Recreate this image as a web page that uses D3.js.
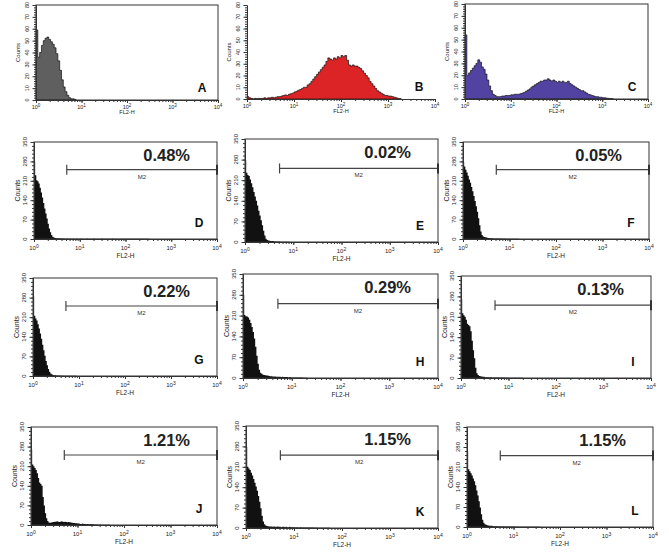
<!DOCTYPE html>
<html>
<head>
<meta charset="utf-8">
<script src="https://cdn.jsdelivr.net/npm/d3@7"></script>
<style>
  body { margin: 0; background: #fff; }
  svg { font-family: "Liberation Sans", Arial, sans-serif; }
</style>
</head>
<body>
<svg width="669" height="559"></svg>
<script>
// Counts per log-spaced channel, first channel at 10^0
const topStep = 0.04;   // decades per channel, top row
const lowStep = 0.025;  // decades per channel, rows 2-4

const countsA = [59,36,40,46,50,52,53,51,49,47,44,39,33,25,17,11,7,4,2,1,1,0.5];
const countsB = [2,1,0.5,0,0.5,0.3,0.5,0.3,0.5,1,0.5,1,1,1.5,1,1.5,2,2,2.5,3,3.5,3,4,4.5,5,6,6.5,7.5,8,9,
  10,10,12,13,15,17,19,21,23,25,27,29,32,35,34,33,35,34,36,35,37,36,37,33,29,28,29,28,28,27,
  26,24,22,20,18,15,13,11,9,7,6,5,4,3,3,2.5,2.5,2,1.5,1,0.5,0.3];
const countsC = [54,20,22,24,26,28,30,33,31,27,25,21,16,11,7,4,3,2,2,2,2.5,2.5,3,3,3,3.5,3.5,4,4,4,
  4.5,5,5.5,6.5,7.5,8.5,10,11,12,13,14,15,15,16,16,17,16,15,16,15,14,15,14,15,14,14,15,13,12,11,
  10,9,8,7,7,6,5,4,3.5,3,2.5,2,2,1.5,1.5,1,1,0.7,0.5,0.3,0.2];

const countsD = [280,230,212,208,200,185,168,150,130,110,92,74,55,38,24,14,8,5,4,3,3,
  3,2,3,2,2,2,1,2,2,1,2,1,1,2,1,1,2,1,1,1,2,1,1,1,1,2,1,1,1,1,1,2,1,1,1,1,1,1,2,1,1,1,1,1,
  1,1,1,2,1,1,1,1,1,1,1,1,1,1,1,1,1,1,1,1,1,1,1,1,1,1,1,1,1,1,0.5,1,0.5,1,0.5,0.5];
const countsE = [278,235,228,224,212,200,186,170,155,140,124,106,90,74,57,38,22,11,7,5,4,
  3,3,3,2,2,2,1.5,1.5,1,1,1,1,0.5,1,0.5,0.5];
const countsF = [278,262,250,240,228,215,203,188,172,155,137,118,98,75,50,27,14,9,7,6,5,
  4,4,3,3,3,2,2,2,2,1.5,2,1.5,1.5,1,1.5,1,1,1,1,1,0.5,1,0.5,1,0.5,0.5,0.5];
const countsG = [285,215,205,198,185,170,152,133,112,92,72,54,38,25,15,9,6,4,3,3,
  2,2,2,2,1,2,1,1,1,1,1,1,0.5,1,0.5,1,0.5,0.5];
const countsH = [280,212,208,207,204,196,185,172,155,133,105,75,48,28,18,14,11,10,9,8,8,
  7,6,6,5,5,5,4,4,4,4,3,4,3,3,3,3,2,3,2,2,2,2,2,2,1.5,2,1.5,1.5,1,1,1,1];
const countsI = [270,222,215,210,200,186,182,178,160,128,95,68,35,16,10,7,6,5,4,4,
  3,3,3,3,2,3,2,2,2,2,2,2,1.5,2,1.5,1.5,1.5,1,1.5,1,1,1,1,1,1,1,0.5,1,0.5,0.5,0.5,0.5];
const countsJ = [270,216,210,204,196,185,168,152,146,140,100,70,42,24,14,9,8,9,10,11,12,
  12,13,12,11,12,13,12,11,12,11,10,11,10,9,8,7,7,6,6,
  5,5,4,4,5,4,4,3,4,3,3,4,3,3,2,2,2,2,1,2,1,1,1,1,1,0.5,1,0.5];
const countsK = [278,210,204,199,190,180,168,155,142,128,110,90,68,42,22,13,9,7,6,
  5,5,5,4,5,4,4,5,4,4,3,4,4,3,4,3,3,4,3,3,3,3,2,3,2,2,3,2,2,2,2,2,2,1.5,2,1.5,1.5,1.5,1,1.5,
  1,1,1,1,1,1,1,0.5,1,0.5,0.5];
const countsL = [265,202,195,188,180,170,160,146,128,110,90,68,45,25,15,10,8,6,5,4,4,4,
  3,3,3,3,3,2,3,2,2,3,2,2,2,2,2,1.5,2,1.5,1.5,1.5,1,1.5,1,1,1,1,1,1,1,1,0.5,1,0.5,1,
  0.5,0.5,0.5,0.5,0.5,0.5,0.5];

const letters = ["A","B","C","D","E","F","G","H","I","J","K","L"];
const percents = [null, null, null, "0.48%","0.02%","0.05%","0.22%","0.29%","0.13%","1.21%","1.15%","1.15%"];
const xMajor = [1, 10, 100, 1000, 10000];
const xExp = ["0","1","2","3","4"];
const yTicksTop = [0,10,20,30,40,50,60,70,80];
const yTicksLow = [0,70,140,210,280,350];
const gateRange = [5.2, 10000];   // M2 gate
const gateLevel = 250;            // drawn at this count

// layout: [left, top, right, bottom] of each plot area
const boxes = [
  [36,5,218,100], [247,5,435,99], [465,4,648,99],
  [34,142,217,239], [245,139,438,242], [463,142,649,239],
  [33,278,217,376], [243,274,438,378], [461,276,651,378],
  [31,427,217,525], [246,426,438,528], [467,427,653,527]
];
const allCounts = [countsA,countsB,countsC,countsD,countsE,countsF,countsG,countsH,countsI,countsJ,countsK,countsL];
const topFills = ["#5f5f5f", "#dc2326", "#5243a3"];

var svg = d3.select("svg");

allCounts.forEach(function(counts, k) {
  const [x0, y0, x1, y1] = boxes[k];
  const isTop = k < 3;
  const step = isTop ? topStep : lowStep;
  const fs = isTop ? 5.5 : 6;

  const x = d3.scaleLog().domain([1, 10000]).range([x0, x1]);
  const y = d3.scaleLinear().domain(isTop ? [0, 80] : [0, 350]).range([y1, y0]);
  const g = svg.append("g");

  // histogram
  const pts = counts.map((v, i) => ({lx: i * step, v: v}));
  pts.push({lx: counts.length * step, v: 0});
  const area = d3.area()
    .x(d => x(Math.pow(10, d.lx)))
    .y0(y(0))
    .y1(d => y(d.v))
    .curve(d3.curveStepAfter);
  g.append("path").datum(pts)
    .attr("d", area)
    .attr("fill", isTop ? topFills[k] : "#111")
    .attr("stroke", isTop ? "#111" : "none")
    .attr("stroke-width", 0.7);

  // frame (panel B has only axes)
  if (k != 1) {
    g.append("rect")
      .attr("x", x0).attr("y", y0)
      .attr("width", x1 - x0).attr("height", y1 - y0)
      .attr("fill", "none").attr("stroke", "#333").attr("stroke-width", 1);
  }

  // y axis
  const yMajor = isTop ? yTicksTop : yTicksLow;
  const yMinor = isTop ? d3.range(0, 81, 2) : d3.range(0, 351, 14);
  g.append("g").attr("transform", `translate(${x0},0)`)
    .call(d3.axisLeft(y).tickValues(yMinor).tickSize(2).tickSizeOuter(0).tickFormat(""))
    .call(s => s.selectAll("line,path").attr("stroke", "#333"));
  g.append("g").attr("transform", `translate(${x0},0)`)
    .call(d3.axisLeft(y).tickValues(yMajor).tickSize(3.5).tickSizeOuter(0).tickFormat(""))
    .call(s => s.selectAll("line,path").attr("stroke", "#333"));
  g.selectAll(".ylab").data(yMajor).enter().append("text")
    .attr("transform", d => `translate(${x0 - 7},${y(d)}) rotate(-90)`)
    .attr("text-anchor", "middle")
    .attr("font-size", fs)
    .attr("fill", "#222")
    .text(d => d);
  g.append("text")
    .attr("transform", `translate(${x0 - (isTop ? 16 : 14)},${(y0 + y1) / 2}) rotate(-90)`)
    .attr("text-anchor", "middle")
    .attr("font-size", isTop ? 6 : 7)
    .attr("fill", "#222")
    .text("Counts");

  // x axis
  g.append("g").attr("transform", `translate(0,${y1})`)
    .call(d3.axisBottom(x).tickValues(x.ticks()).tickSize(2).tickSizeOuter(0).tickFormat(""))
    .call(s => s.selectAll("line,path").attr("stroke", "#333"));
  g.append("g").attr("transform", `translate(0,${y1})`)
    .call(d3.axisBottom(x).tickValues(xMajor).tickSize(3).tickSizeOuter(0).tickFormat(""))
    .call(s => s.selectAll("line,path").attr("stroke", "#333"));
  const xl = g.selectAll(".xlab").data(xMajor).enter().append("text")
    .attr("x", d => x(d))
    .attr("y", y1 + (isTop ? 9 : 11))
    .attr("text-anchor", "middle")
    .attr("font-size", fs)
    .attr("fill", "#222");
  xl.append("tspan").text("10");
  xl.append("tspan").attr("dy", -2.5).attr("font-size", fs - 1)
    .text((d, i) => xExp[i]);
  g.append("text")
    .attr("x", (x0 + x1) / 2)
    .attr("y", y1 + (isTop ? 14 : 19))
    .attr("text-anchor", "middle")
    .attr("font-size", isTop ? 5.5 : 6.5)
    .attr("fill", "#222")
    .text("FL2-H");

  // panel letter
  g.append("text")
    .attr("x", x1 - (isTop ? 16 : 18))
    .attr("y", y1 - (isTop ? 8 : 12))
    .attr("text-anchor", "middle")
    .attr("font-size", 12)
    .attr("font-weight", "bold")
    .attr("fill", "#111")
    .text(letters[k]);

  // M2 gate and percentage
  if (percents[k]) {
    const gy = y(gateLevel);
    const gx0 = x(gateRange[0]), gx1 = x(gateRange[1]);
    g.append("line").attr("x1", gx0).attr("x2", gx1).attr("y1", gy).attr("y2", gy)
      .attr("stroke", "#444").attr("stroke-width", 1.2);
    g.append("line").attr("x1", gx0).attr("x2", gx0).attr("y1", gy - 5).attr("y2", gy + 5)
      .attr("stroke", "#444").attr("stroke-width", 1.2);
    g.append("line").attr("x1", gx1).attr("x2", gx1).attr("y1", gy - 5).attr("y2", gy + 5)
      .attr("stroke", "#333").attr("stroke-width", 2);
    g.append("text")
      .attr("x", (gx0 + gx1) / 2).attr("y", gy + 9)
      .attr("text-anchor", "middle").attr("font-size", 6).attr("fill", "#333")
      .text("M2");
    g.append("text")
      .attr("x", x1 - 27).attr("y", y0 + 19)
      .attr("text-anchor", "end")
      .attr("font-size", 16.5)
      .attr("font-weight", "bold")
      .attr("fill", "#222")
      .text(percents[k]);
  }
});
</script>
</body>
</html>
